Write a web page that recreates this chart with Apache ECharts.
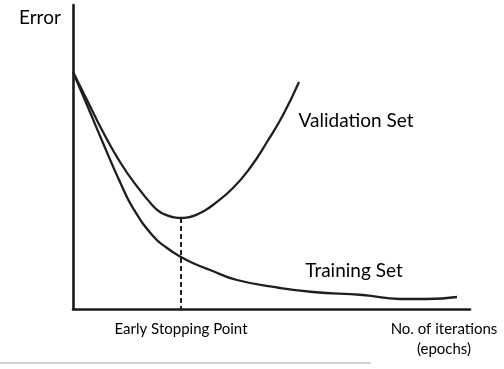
<!DOCTYPE html>
<html>
<head>
<meta charset="utf-8">
<script src="https://cdn.jsdelivr.net/npm/echarts@6/dist/echarts.min.js"></script>
<style>
html,body{margin:0;padding:0;background:#fff;}
#chart{width:504px;height:369px;}
</style>
</head>
<body>
<div id="chart"></div>
<script>
// Iterations (x, 0-100) and error (y, 0-100)
const validationX = [0, 3.53, 7.56, 11.84, 16.12, 20.15, 21.91, 23.68, 25.44, 27.20, 28.97, 30.73, 32.75, 35.26, 40.30, 44.58, 48.87, 52.90, 56.93];
const validationY = [77.96, 68.75, 58.22, 48.36, 40.3, 33.9, 31.91, 30.81, 30.16, 29.93, 30.16, 30.81, 32.07, 34.21, 39.80, 46.38, 54.93, 63.82, 74.67];
const trainingX = [0, 3.53, 7.56, 11.84, 15.11, 20.15, 23.68, 27.20, 30.73, 34.51, 41.31, 52.14, 60.45, 73.05, 82.37, 89.17, 96.73];
const trainingY = [77.96, 67.11, 54.61, 41.78, 33.2, 24.01, 20.07, 17.1, 14.8, 12.83, 9.54, 6.91, 5.59, 4.61, 3.29, 3.29, 3.95];
const earlyStop = [27.2, 29.93];

const pair = (xs, ys) => xs.map((x, i) => [x, ys[i]]);
const FONT = 'Lato';

const chart = echarts.init(document.getElementById('chart'), null, {renderer: 'canvas'});
chart.setOption({
  animation: false,
  backgroundColor: '#fff',
  grid: {left: 73, right: 34, top: 5, bottom: 60, containLabel: false},
  xAxis: {
    type: 'value', min: 0, max: 100,
    axisLine: {show: true, lineStyle: {color: '#1a1a1a', width: 2.6}},
    axisTick: {show: false}, axisLabel: {show: false}, splitLine: {show: false}
  },
  yAxis: {
    type: 'value', min: 0, max: 100,
    axisLine: {show: true, lineStyle: {color: '#1a1a1a', width: 2.6}},
    axisTick: {show: false}, axisLabel: {show: false}, splitLine: {show: false}
  },
  series: [
    {
      name: 'Validation Set', type: 'line', data: pair(validationX, validationY),
      smooth: 0.5, showSymbol: false, symbol: 'none',
      lineStyle: {color: '#1f1f1f', width: 2.3},
      markLine: {
        silent: true, symbol: ['none', 'none'],
        label: {show: false},
        lineStyle: {color: '#1f1f1f', width: 2, type: [5, 3]},
        data: [[{coord: [earlyStop[0], earlyStop[1]]}, {coord: [earlyStop[0], 0]}]]
      }
    },
    {
      name: 'Training Set', type: 'line', data: pair(trainingX, trainingY),
      smooth: 0.5, showSymbol: false, symbol: 'none',
      lineStyle: {color: '#1f1f1f', width: 2.3}
    }
  ],
  graphic: [
    {type: 'text', left: 19, top: 8, style: {text: 'Error', font: '19px ' + FONT, fill: '#000'}},
    {type: 'text', x: 356, y: 121, style: {text: 'Validation Set', font: '19px ' + FONT, fill: '#000', align: 'center', verticalAlign: 'middle'}},
    {type: 'text', x: 354, y: 271, style: {text: 'Training Set', font: '19px ' + FONT, fill: '#000', align: 'center', verticalAlign: 'middle'}},
    {type: 'text', x: 181, y: 329, style: {text: 'Early Stopping Point', font: '15px ' + FONT, fill: '#000', align: 'center', verticalAlign: 'middle'}},
    {type: 'text', x: 444, y: 329, style: {text: 'No. of iterations', font: '15px ' + FONT, fill: '#000', align: 'center', verticalAlign: 'middle'}},
    {type: 'text', x: 444, y: 349, style: {text: '(epochs)', font: '15px ' + FONT, fill: '#000', align: 'center', verticalAlign: 'middle'}},
    {type: 'line', shape: {x1: 0, y1: 363, x2: 371, y2: 363}, style: {stroke: '#c4c4c4', lineWidth: 1.5}}
  ]
});
</script>
</body>
</html>
